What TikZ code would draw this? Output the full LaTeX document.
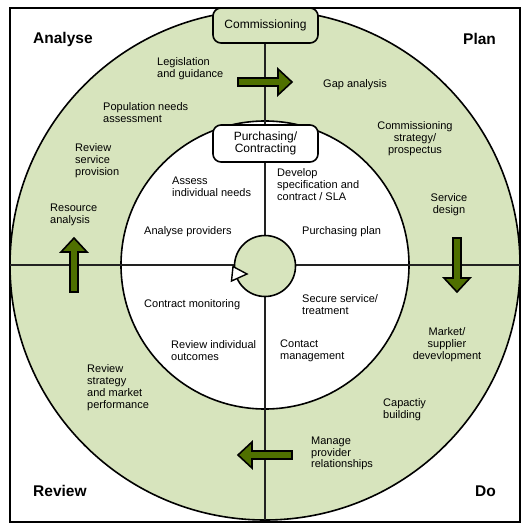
\documentclass[tikz,border=0pt]{standalone}
\usepackage{fontspec}
\setmainfont{Liberation Sans}
\definecolor{ringgreen}{HTML}{D7E4BD}
\definecolor{arrowgreen}{HTML}{4F7000}
\definecolor{linegray}{HTML}{222222}
\begin{document}
\begin{tikzpicture}[x=1pt,y=-1pt,
  lbl/.style={font=\fontsize{11}{11.8}\selectfont, inner sep=0pt, align=left, anchor=west, yshift=-1.5pt},
  clbl/.style={font=\fontsize{11}{11.8}\selectfont, inner sep=0pt, align=center, anchor=center, yshift=-1.5pt},
  hdr/.style={font=\fontsize{15.5}{18}\selectfont\bfseries, inner sep=0pt, anchor=west},
  stagebox/.style={draw, line width=1.6pt, rounded corners=8pt, minimum width=105pt,
    inner sep=0pt, align=center, font=\fontsize{12}{12.5}\selectfont},
  ring/.style={circle, draw, line width=1.6pt, inner sep=0pt},
  divider/.style={draw=linegray, line width=1.8pt},
  blockarrow/.pic={\draw[fill=arrowgreen, line width=1.6pt, line join=miter]
    (-27,-4) -- (13,-4) -- (13,-13) -- (27,0) -- (13,13) -- (13,4) -- (-27,4) -- cycle;}
]
\useasboundingbox (0,0) rectangle (530,530);
% frame
\draw[line width=1.6pt] (10,8) rectangle (520,522);
% rings
\node[ring, fill=ringgreen, minimum size=510pt] (outer) at (265,265) {};
\node[ring, fill=white, minimum size=288pt] (inner) at (265,265) {};
% dividers
\coordinate (lft) at (10,265);
\coordinate (rgt) at (520,265);
\coordinate (bot) at (265,520);
\coordinate (top) at (265,30);
\draw[divider] (lft) -- (rgt);
\draw[divider] (top) -- (bot);
% hub
\node[ring, fill=ringgreen, minimum size=61pt] (hub) at (265,266) {};
\draw[fill=white, line width=1.4pt, line join=miter] (233,266.5) -- (247,274) -- (231.5,281) -- cycle;
% arrows
\pic at (265,82) {blockarrow};
\pic[rotate=-90] at (457,265) {blockarrow};
\pic[rotate=180] at (265,455) {blockarrow};
\pic[rotate=90] at (74,265) {blockarrow};
% boxes
\node[stagebox, fill=ringgreen, minimum height=35pt] (comm) at (265.5,25.5) {Commissioning};
\node[stagebox, fill=white, minimum height=37pt] (purch) at (265.5,143.5) {Purchasing/\\Contracting};
% corner headers
\node[hdr] (hA) at (33,39) {Analyse};
\node[hdr] (hP) at (463,39) {Plan};
\node[hdr] (hR) at (33,491) {Review};
\node[hdr] (hD) at (475,491) {Do};
% outer ring texts
\node[lbl] (o1) at (157,67) {Legislation\\and guidance};
\node[lbl] (o2) at (323,83) {Gap analysis};
\node[lbl] (o3) at (103,111) {Population needs\\assessment};
\node[clbl] (o4) at (415,137) {Commissioning\\strategy/\\prospectus};
\node[lbl] (o5) at (75,159) {Review\\service\\provision};
\node[clbl] (o6) at (449,203) {Service\\design};
\node[lbl] (o7) at (50,213) {Resource\\analysis};
\node[clbl] (o8) at (447,343) {Market/\\supplier\\devevlopment};
\node[lbl] (o9) at (383,408) {Capactiy\\building};
\node[lbl] (o10) at (87,386) {Review\\strategy\\and market\\performance};
\node[lbl] (o11) at (311,452) {Manage\\provider\\relationships};
% inner ring texts
\node[lbl] (i1) at (172,185) {Assess\\individual needs};
\node[lbl] (i2) at (277,183) {Develop\\specification and\\contract / SLA};
\node[lbl] (i3) at (144,230) {Analyse providers};
\node[lbl] (i4) at (302,230) {Purchasing plan};
\node[lbl] (i5) at (144,303) {Contract monitoring};
\node[lbl] (i6) at (302,303) {Secure service/\\treatment};
\node[lbl] (i7) at (171,349) {Review individual\\outcomes};
\node[lbl] (i8) at (280,349) {Contact\\management};
\end{tikzpicture}
\end{document}
